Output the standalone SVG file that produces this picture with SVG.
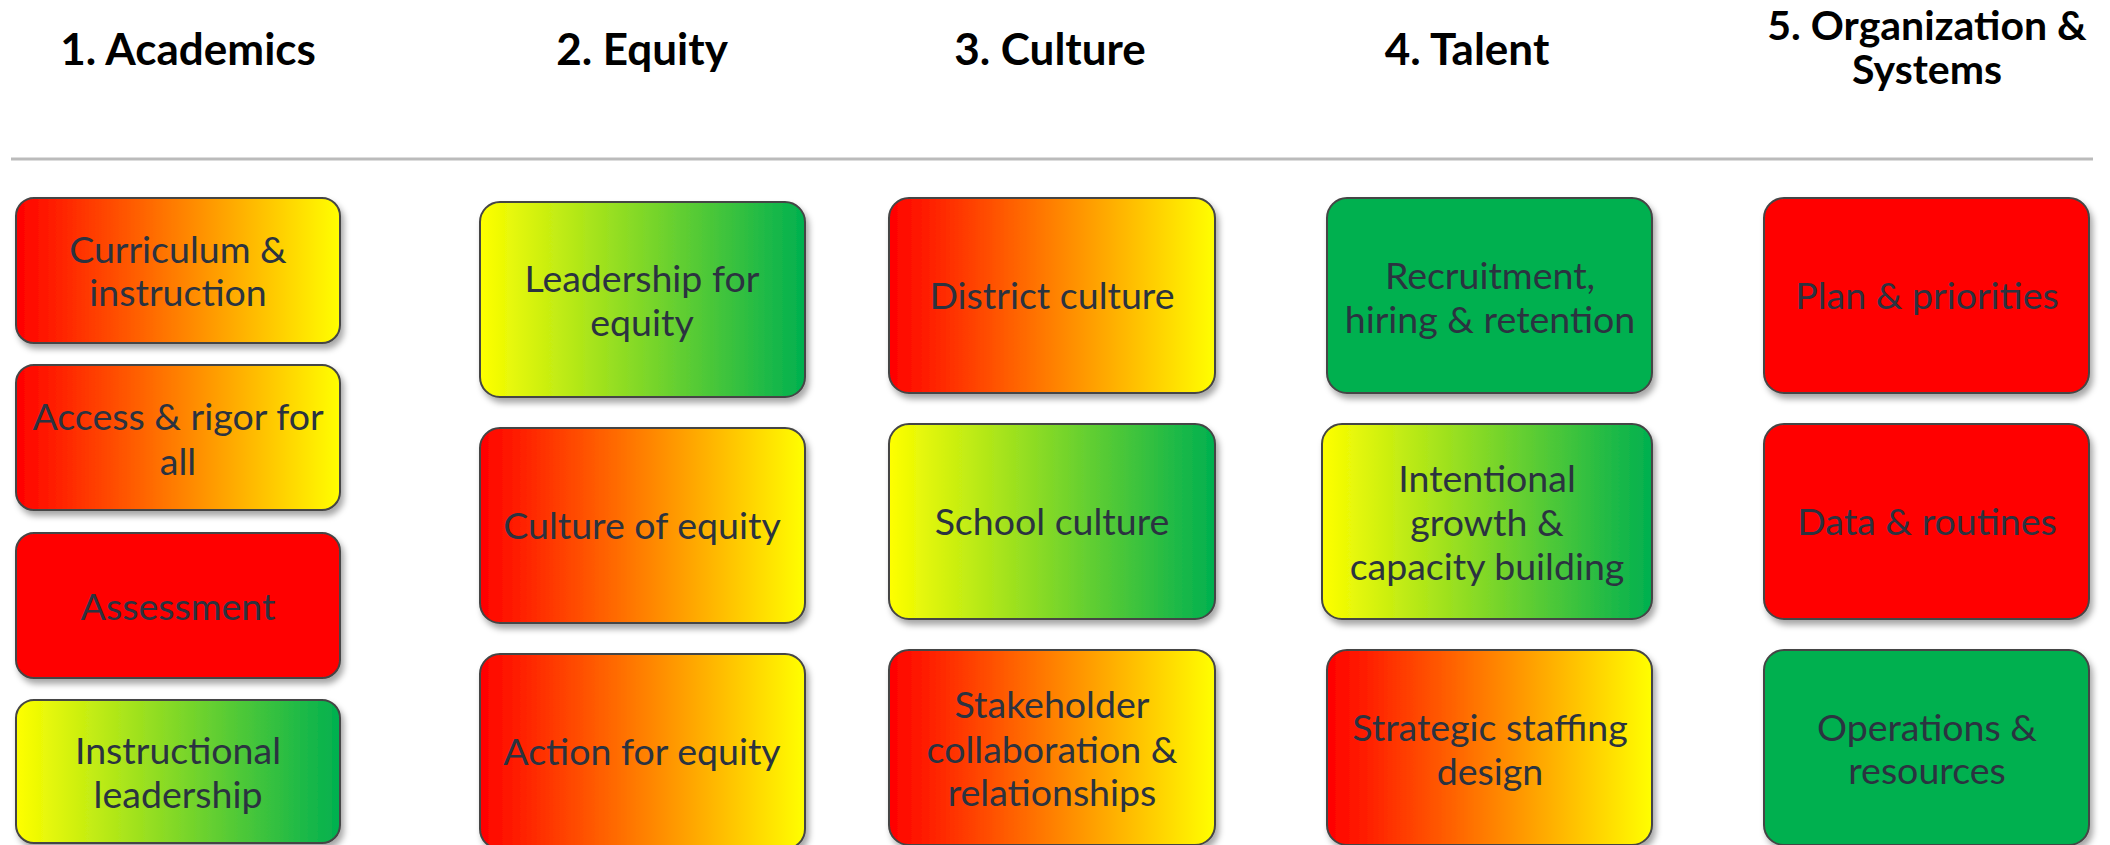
<svg xmlns="http://www.w3.org/2000/svg" width="2110" height="845" viewBox="0 0 2110 845">
  <defs>
    <linearGradient id="redYellow" x1="0" y1="0" x2="1" y2="0">
      <stop offset="0" stop-color="#ff0000"/>
      <stop offset="1" stop-color="#ffff00"/>
    </linearGradient>
    <linearGradient id="yellowGreen" x1="0" y1="0" x2="1" y2="0">
      <stop offset="0" stop-color="#ffff00"/>
      <stop offset="1" stop-color="#00b050"/>
    </linearGradient>
    <filter id="shadow" x="-10%" y="-10%" width="125%" height="130%">
      <feDropShadow dx="3" dy="5" stdDeviation="3" flood-color="#000" flood-opacity="0.35"/>
    </filter>
  </defs>
  <style>
    .head { font-family: Lato, "Open Sans", "Liberation Sans", sans-serif; font-weight: 700; font-size: 44px; fill: #000; text-anchor: middle; }
    .head2 { font-size: 41px; }
    .box { stroke: #454545; stroke-width: 2; filter: url(#shadow); }
    .ry { fill: url(#redYellow); }
    .yg { fill: url(#yellowGreen); }
    .red { fill: #ff0000; }
    .green { fill: #00b050; }
    .lbl { font-family: Lato, "Open Sans", "Liberation Sans", sans-serif; font-size: 37.5px; fill: #2b3340; text-anchor: middle; }
  </style>
  <rect width="2110" height="845" fill="#ffffff"/>

  <!-- column headings -->
  <g id="headings">
    <text class="head" x="188" y="65">1. Academics</text>
    <text class="head" x="642" y="65">2. Equity</text>
    <text class="head" x="1050" y="65">3. Culture</text>
    <text class="head" x="1467" y="65">4. Talent</text>
    <text class="head head2" x="1927" y="40">5. Organization &amp;</text>
    <text class="head head2" x="1927" y="84">Systems</text>
  </g>

  <g id="connectors">
    <line x1="11" y1="159" x2="2093" y2="159" stroke="#bbbbbb" stroke-width="3"/>
  </g>

  <!-- 1. Academics -->
  <g id="curriculum">
    <rect class="box ry" x="16" y="198" width="324" height="145" rx="18"/>
    <text class="lbl" x="178" y="263">Curriculum &amp;</text>
    <text class="lbl" x="178" y="306">instruction</text>
  </g>
  <g id="access">
    <rect class="box ry" x="16" y="365" width="324" height="145" rx="18"/>
    <text class="lbl" x="178" y="430">Access &amp; rigor for</text>
    <text class="lbl" x="178" y="475">all</text>
  </g>
  <g id="assessment">
    <rect class="box red" x="16" y="533" width="324" height="145" rx="18"/>
    <text class="lbl" x="178" y="620">Assessment</text>
  </g>
  <g id="instructional-leadership">
    <rect class="box yg" x="16" y="700" width="324" height="143" rx="18"/>
    <text class="lbl" x="178" y="764">Instructional</text>
    <text class="lbl" x="178" y="808">leadership</text>
  </g>

  <!-- 2. Equity -->
  <g id="leadership-equity">
    <rect class="box yg" x="480" y="202" width="325" height="195" rx="20"/>
    <text class="lbl" x="642" y="292">Leadership for</text>
    <text class="lbl" x="642" y="336">equity</text>
  </g>
  <g id="culture-equity">
    <rect class="box ry" x="480" y="428" width="325" height="195" rx="20"/>
    <text class="lbl" x="642" y="539">Culture of equity</text>
  </g>
  <g id="action-equity">
    <rect class="box ry" x="480" y="654" width="325" height="195" rx="20"/>
    <text class="lbl" x="642" y="765">Action for equity</text>
  </g>

  <!-- 3. Culture -->
  <g id="district-culture">
    <rect class="box ry" x="889" y="198" width="326" height="195" rx="20"/>
    <text class="lbl" x="1052" y="309">District culture</text>
  </g>
  <g id="school-culture">
    <rect class="box yg" x="889" y="424" width="326" height="195" rx="20"/>
    <text class="lbl" x="1052" y="535">School culture</text>
  </g>
  <g id="stakeholder">
    <rect class="box ry" x="889" y="650" width="326" height="195" rx="20"/>
    <text class="lbl" x="1052" y="718">Stakeholder</text>
    <text class="lbl" x="1052" y="763">collaboration &amp;</text>
    <text class="lbl" x="1052" y="806">relationships</text>
  </g>

  <!-- 4. Talent -->
  <g id="recruitment">
    <rect class="box green" x="1327" y="198" width="325" height="195" rx="20"/>
    <text class="lbl" x="1490" y="289">Recruitment,</text>
    <text class="lbl" x="1490" y="333">hiring &amp; retention</text>
  </g>
  <g id="intentional-growth">
    <rect class="box yg" x="1322" y="424" width="330" height="195" rx="20"/>
    <text class="lbl" x="1487" y="492">Intentional</text>
    <text class="lbl" x="1487" y="536">growth &amp;</text>
    <text class="lbl" x="1487" y="580">capacity building</text>
  </g>
  <g id="strategic-staffing">
    <rect class="box ry" x="1327" y="650" width="325" height="195" rx="20"/>
    <text class="lbl" x="1490" y="741">Strategic staffing</text>
    <text class="lbl" x="1490" y="785">design</text>
  </g>

  <!-- 5. Organization & Systems -->
  <g id="plan-priorities">
    <rect class="box red" x="1764" y="198" width="325" height="195" rx="20"/>
    <text class="lbl" x="1927" y="309">Plan &amp; priorities</text>
  </g>
  <g id="data-routines">
    <rect class="box red" x="1764" y="424" width="325" height="195" rx="20"/>
    <text class="lbl" x="1927" y="535">Data &amp; routines</text>
  </g>
  <g id="operations">
    <rect class="box green" x="1764" y="650" width="325" height="195" rx="20"/>
    <text class="lbl" x="1927" y="741">Operations &amp;</text>
    <text class="lbl" x="1927" y="784">resources</text>
  </g>
</svg>
